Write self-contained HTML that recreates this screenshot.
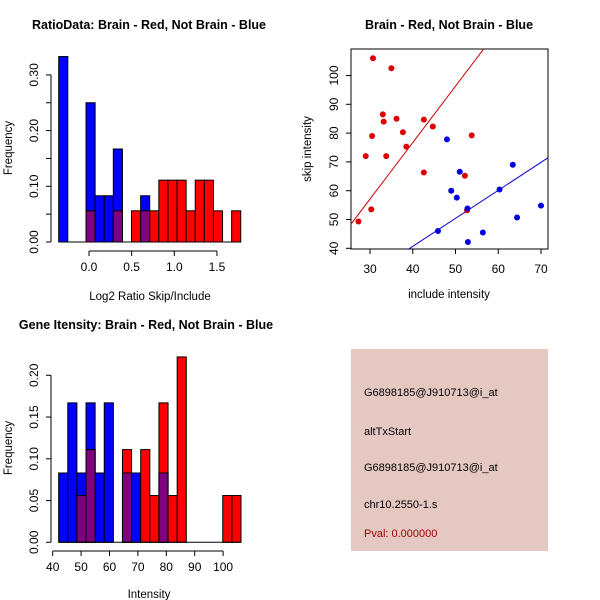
<!DOCTYPE html>
<html><head><meta charset="utf-8"><style>
body{margin:0;background:#fff}
svg{display:block;font-family:"Liberation Sans",sans-serif}
</style></head><body>
<svg id="c" width="600" height="600" xmlns="http://www.w3.org/2000/svg"></svg>
<script>
// ---- Panel 1: ratio histogram ----
const ratioBinStart = -0.355, ratioBinWidth = 0.1067;
const ratioBlue = [0.333,0,0,0.25,0.083,0.083,0.167,0,0,0.083,0,0,0,0,0,0,0,0,0,0];
const ratioRed  = [0,0,0,0.056,0,0,0.056,0,0.056,0.056,0.056,0.111,0.111,0.111,0.056,0.111,0.111,0.056,0,0.056];
const ratioYTicks = [0,0.05,0.10,0.15,0.20,0.25,0.30];
const ratioYLabels = ["0.00","","0.10","","0.20","","0.30"];
const ratioXTicks = [0,0.5,1.0,1.5];
const ratioXLabels = ["0.0","0.5","1.0","1.5"];
// ---- Panel 2: scatter ----
const redX = [30.7,35,33,33.2,36.2,30.5,37.7,38.5,29,33.8,42.6,44.7,53.8,42.6,52.2,30.3,27.3,52.7];
const redY = [106,102.5,86.5,84,85,79,80.3,75.3,72,72,84.7,82.3,79.2,66.3,65.2,53.5,49.3,53.2];
const blueX = [48,51,49,50.3,52.8,45.9,52.9,56.4,60.3,63.4,64.4,70];
const blueY = [77.8,66.6,60,57.6,53.8,46,42.2,45.5,60.4,69,50.7,54.8];
const redFit = [-1.7,1.96];
const blueFit = [1.8,0.972];
const scXTicks = [30,40,50,60,70];
const scYTicks = [40,50,60,70,80,90,100];
// ---- Panel 3: intensity histogram ----
const intBinStart = 42.1, intBinWidth = 3.21;
const intBlue = [0.083,0.167,0.083,0.167,0.083,0.167,0,0.083,0.083,0,0,0.083,0,0,0,0,0,0,0,0];
const intRed  = [0,0,0.056,0.111,0,0,0,0.111,0,0.111,0.056,0.167,0.056,0.222,0,0,0,0,0.056,0.056];
const intYTicks = [0,0.05,0.10,0.15,0.20];
const intYLabels = ["0.00","0.05","0.10","0.15","0.20"];
const intXTicks = [40,50,60,70,80,90,100];

const svg = document.getElementById('c');
const NS = 'http://www.w3.org/2000/svg';
function mk(tag, attrs, parent, name){
  const e = document.createElementNS(NS, tag);
  for (const k in attrs) e.setAttribute(k, attrs[k]);
  
  
  (parent||svg).appendChild(e); return e;
}
function txt(x,y,s,opts,name){
  const t = mk('text', Object.assign({x:x,y:y,'font-size':12,'text-anchor':'middle',fill:'#000'},opts||{}), svg, name);
  t.textContent = s; return t;
}
function line(x1,y1,x2,y2,name,col){ return mk('line',{x1,y1,x2,y2,stroke:col||'#000','stroke-width':1},svg,name); }

function histogram(o){
  const sx = v => o.x0px + (v - o.x0) * o.xs;
  const sy = v => o.y0px - v * o.ys;
  const n = o.blue.length;
  for (let i=0;i<n;i++){
    const l = sx(o.bs + o.bw*i), r = sx(o.bs + o.bw*(i+1));
    const b = o.blue[i], rd = o.red[i];
    if (b>0) mk('rect',{x:l,y:sy(b),width:r-l,height:sy(0)-sy(b),fill:'#0000ff',stroke:'#000'},svg,'blue-bar');
    if (rd>0) mk('rect',{x:l,y:sy(rd),width:r-l,height:sy(0)-sy(rd),fill:'#ff0000',stroke:'#000'},svg,'red-bar');
    const m = Math.min(b,rd);
    if (m>0) mk('rect',{x:l,y:sy(m),width:r-l,height:sy(0)-sy(m),fill:'#800080',stroke:'#000'},svg,'overlap-bar');
  }
  line(sx(o.bs), sy(0), sx(o.bs+o.bw*n), sy(0), 'baseline');
  line(o.yAxisX, sy(o.yt[0]), o.yAxisX, sy(o.yt[o.yt.length-1]), 'y-axis');
  o.yt.forEach((v,i)=>{
    line(o.yAxisX-5, sy(v), o.yAxisX, sy(v), 'y-tick');
    if (o.yl[i]) txt(o.yAxisX-13, sy(v), o.yl[i], {transform:`rotate(-90 ${o.yAxisX-13} ${sy(v)})`,'font-size':12}, 'y-tick-label');
  });
  line(sx(o.xt[0]), o.xAxisY, sx(o.xt[o.xt.length-1]), o.xAxisY, 'x-axis');
  o.xt.forEach((v,i)=>{
    line(sx(v), o.xAxisY, sx(v), o.xAxisY+5, 'x-tick');
    txt(sx(v), o.xAxisY+20, o.xl[i], {'font-size':12}, 'x-tick-label');
  });
}

// Panel 1
txt(149, 29, 'RatioData: Brain - Red, Not Brain - Blue', {'font-weight':'bold','font-size':12.5}, 'chart-title');
histogram({x0:0,x0px:89,xs:85.3,y0px:242,ys:557,bs:ratioBinStart,bw:ratioBinWidth,blue:ratioBlue,red:ratioRed,
  yt:ratioYTicks,yl:ratioYLabels,yAxisX:51,xt:ratioXTicks,xl:ratioXLabels,xAxisY:251});
txt(150, 300, 'Log2 Ratio Skip/Include', {'font-size':11.5}, 'x-axis-title');
txt(12, 148, 'Frequency', {'font-size':11.5,transform:'rotate(-90 12 148)'}, 'y-axis-title');

// Panel 2
txt(449, 29, 'Brain - Red, Not Brain - Blue', {'font-weight':'bold','font-size':12.5}, 'chart-title');
const px = v => 370 + (v-30)*4.275;
const py = v => 248.3 - (v-40)*2.88;
const clip = mk('clipPath',{id:'sc'},svg,'plot-clip');
mk('rect',{x:351,y:49,width:197,height:200},clip,'clip-rect');
mk('rect',{x:351,y:49,width:197,height:200,fill:'none',stroke:'#000'},svg,'plot-box');
scXTicks.forEach(v=>{ line(px(v),249,px(v),254,'x-tick'); txt(px(v),273,String(v),{'font-size':12},'x-tick-label'); });
scYTicks.forEach(v=>{ line(346,py(v),351,py(v),'y-tick'); txt(338,py(v),String(v),{'font-size':12,transform:`rotate(-90 338 ${py(v)})`},'y-tick-label'); });
txt(449, 298, 'include intensity', {'font-size':11.5}, 'x-axis-title');
txt(311, 149, 'skip intensity', {'font-size':11.5,transform:'rotate(-90 311 149)'}, 'y-axis-title');
const g = mk('g',{'clip-path':'url(#sc)'},svg,'fit-lines');
[[redFit,'#cc0000','red-fit-line'],[blueFit,'#0000cc','blue-fit-line']].forEach(([f,c,n])=>{
  mk('line',{x1:px(20),y1:py(f[0]+f[1]*20),x2:px(80),y2:py(f[0]+f[1]*80),stroke:c,'stroke-width':1},g,n);
});
redX.forEach((x,i)=> mk('circle',{cx:px(x),cy:py(redY[i]),r:3,fill:'#dd0000'},svg,'red-point'));
blueX.forEach((x,i)=> mk('circle',{cx:px(x),cy:py(blueY[i]),r:3,fill:'#0000dd'},svg,'blue-point'));

// Panel 3
txt(146, 329, 'Gene Itensity: Brain - Red, Not Brain - Blue', {'font-weight':'bold','font-size':12.5}, 'chart-title');
histogram({x0:40,x0px:52.7,xs:2.84,y0px:542.3,ys:835,bs:intBinStart,bw:intBinWidth,blue:intBlue,red:intRed,
  yt:intYTicks,yl:intYLabels,yAxisX:51,xt:intXTicks,xl:intXTicks.map(String),xAxisY:551});
txt(149, 598, 'Intensity', {'font-size':11.5}, 'x-axis-title');
txt(12, 448, 'Frequency', {'font-size':11.5,transform:'rotate(-90 12 448)'}, 'y-axis-title');

// Info box
mk('rect',{x:351,y:349,width:197,height:202,fill:'#e6c8c2'},svg,'info-box');
const info = [['G6898185@J910713@i_at',396,'#000','probe-id'],['altTxStart',435,'#000','event-type'],
  ['G6898185@J910713@i_at',471,'#000','probe-id-2'],['chr10.2550-1.s',508,'#000','location'],['Pval: 0.000000',537,'#990000','p-value']];
info.forEach(([s,y,c,n])=> txt(364,y,s,{'text-anchor':'start','font-size':11,fill:c},n));
</script>
</body></html>
